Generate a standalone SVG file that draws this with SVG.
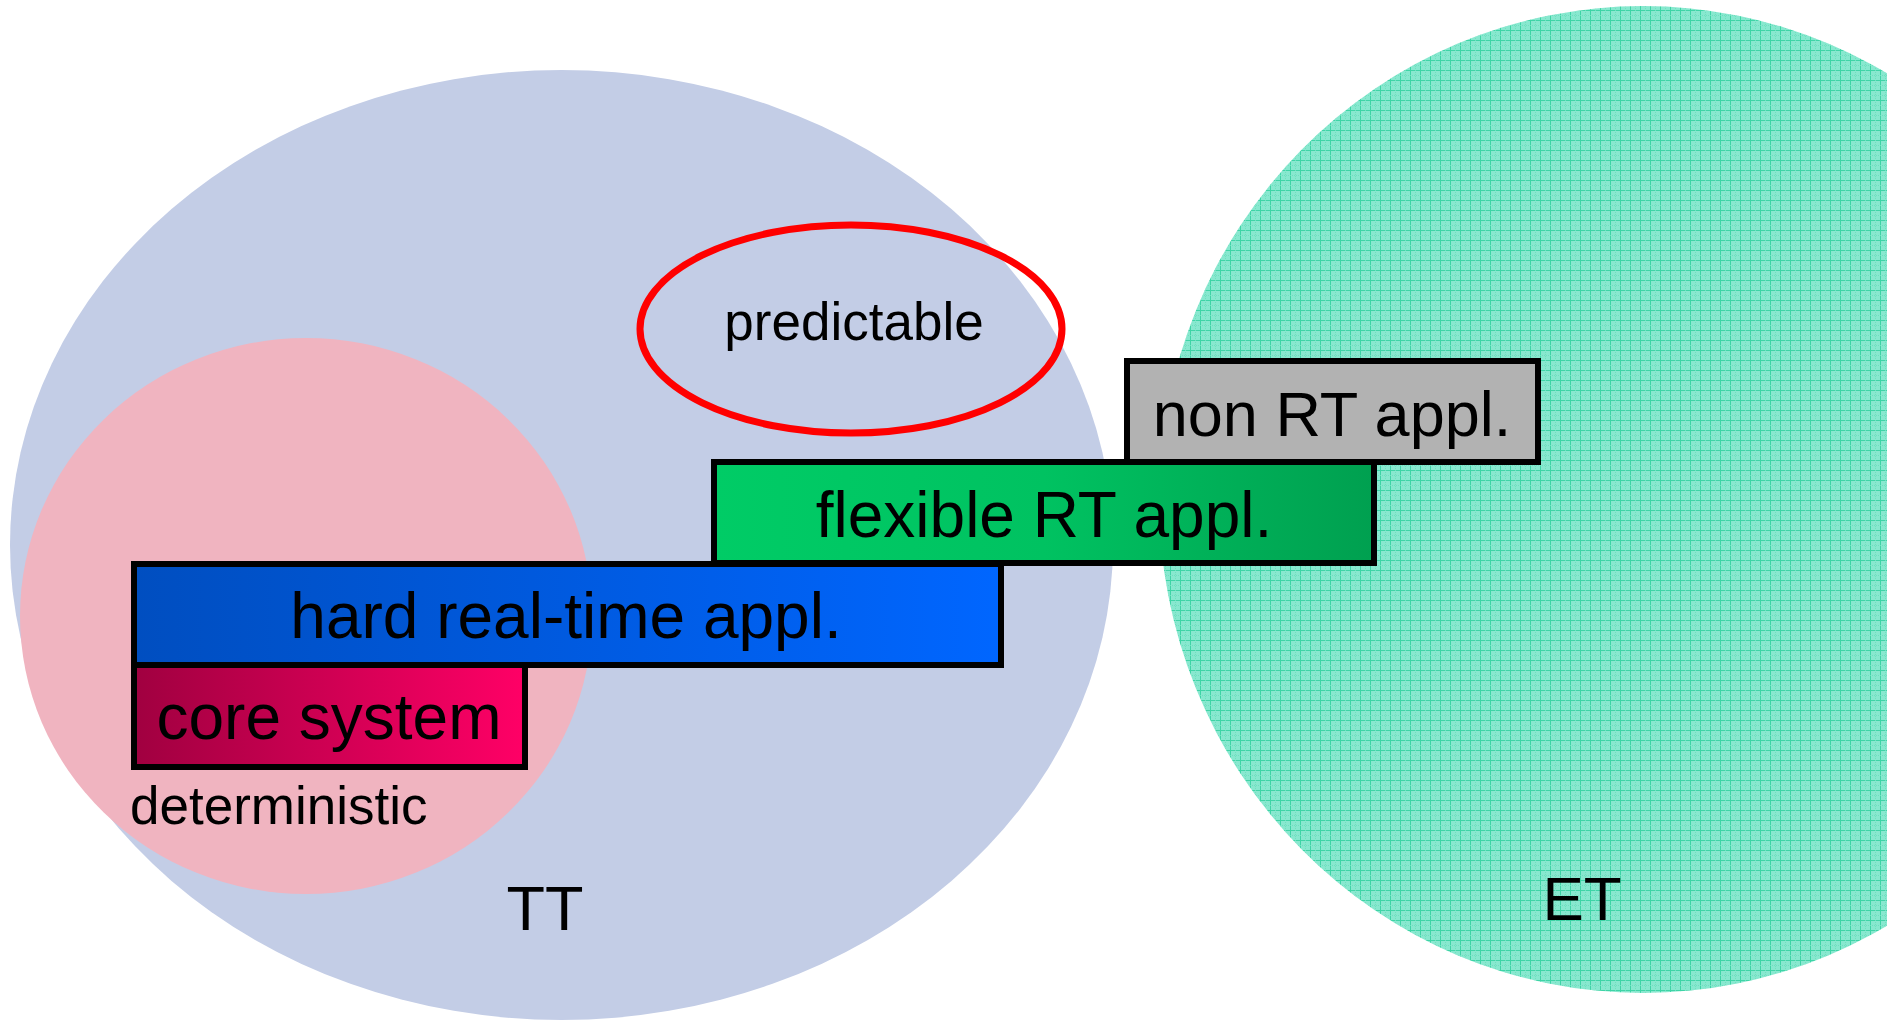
<svg xmlns="http://www.w3.org/2000/svg" width="1887" height="1023" viewBox="0 0 1887 1023">
<style>
.box{stroke:#000;stroke-width:6}
.lbl{font-family:"Liberation Sans",Arial,sans-serif;fill:#000}
</style>
<defs>
<pattern id="grid" width="10" height="10" patternUnits="userSpaceOnUse">
<rect width="10" height="10" fill="#88e8cf"/>
<path d="M0 0.5H10M0.5 0V10" stroke="#3ed4a6" stroke-width="1"/>
<path d="M0 5.5H10M5.5 0V10" stroke="#6fdfbf" stroke-width="1" stroke-dasharray="1 1"/>
</pattern>
<linearGradient id="gFlex" x1="0" y1="0" x2="1" y2="0"><stop offset="0" stop-color="#00cc66"/><stop offset="0.5" stop-color="#00c261"/><stop offset="1" stop-color="#00a050"/></linearGradient>
<linearGradient id="gHard" x1="0" y1="0" x2="1" y2="0"><stop offset="0" stop-color="#004ec0"/><stop offset="1" stop-color="#0066ff"/></linearGradient>
<linearGradient id="gCore" x1="0" y1="0" x2="1" y2="0"><stop offset="0" stop-color="#a00040"/><stop offset="1" stop-color="#ff0066"/></linearGradient>
</defs>
<rect width="1887" height="1023" fill="#fff"/>
<g id="et">
<ellipse cx="1643" cy="499.5" rx="484" ry="493.5" fill="url(#grid)"/>
<text class="lbl" x="1582" y="920" font-size="62" text-anchor="middle">ET</text>
</g>
<g id="tt">
<ellipse cx="561.5" cy="545" rx="551.5" ry="475" fill="#c3cde6"/>
<text class="lbl" x="545" y="930" font-size="63" text-anchor="middle">TT</text>
</g>
<g id="deterministic">
<ellipse cx="306" cy="616" rx="286" ry="278" fill="#f0b4c0"/>
<text class="lbl" x="130" y="824" font-size="53">deterministic</text>
</g>
<g id="predictable">
<ellipse cx="851" cy="329" rx="211" ry="104" fill="none" stroke="#ff0000" stroke-width="7"/>
<text class="lbl" x="854" y="340" font-size="53" text-anchor="middle">predictable</text>
</g>
<g id="hard">
<rect class="box" x="134" y="564" width="867" height="101" fill="url(#gHard)"/>
<text class="lbl" x="566" y="638" font-size="64" text-anchor="middle">hard real-time appl.</text>
</g>
<g id="core">
<rect class="box" x="134" y="665" width="391" height="102" fill="url(#gCore)"/>
<text class="lbl" x="329" y="739" font-size="64" text-anchor="middle">core system</text>
</g>
<g id="flexible">
<rect class="box" x="714" y="462" width="660" height="101" fill="url(#gFlex)"/>
<text class="lbl" x="1044" y="537" font-size="64" text-anchor="middle">flexible RT appl.</text>
</g>
<g id="nonrt">
<rect class="box" x="1127" y="361" width="411" height="101" fill="#b2b2b2"/>
<text class="lbl" x="1332" y="436" font-size="63" text-anchor="middle">non RT appl.</text>
</g>
<g id="connectors"/>
</svg>
